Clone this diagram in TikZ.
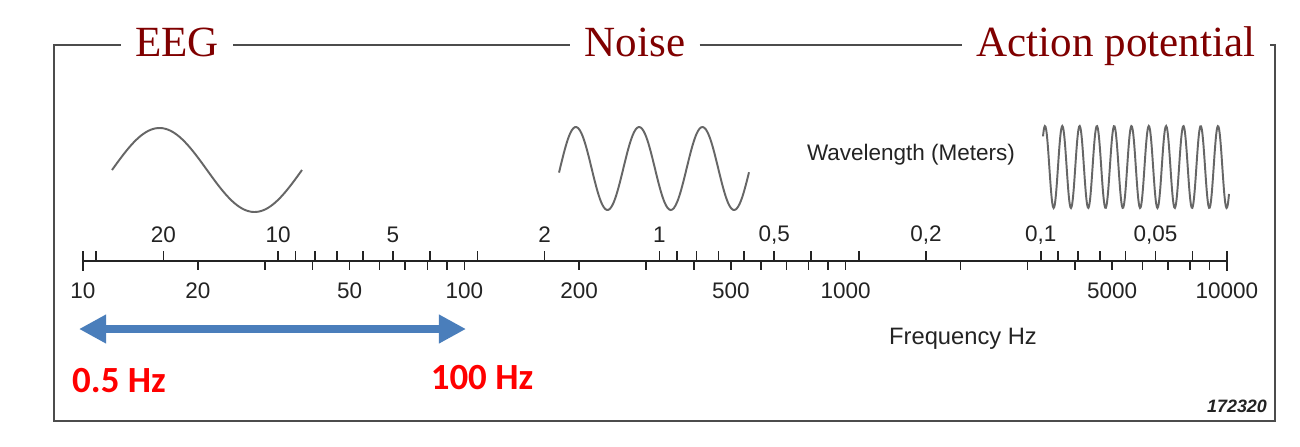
\documentclass[tikz,border=0pt]{standalone}
\usepackage{fontspec}
\setmainfont{Liberation Serif}
\setsansfont{Liberation Sans}
\newfontfamily\calibri{Carlito}
\usetikzlibrary{arrows.meta,calc}
\definecolor{TitleClr}{RGB}{128,0,0}
\definecolor{ArrowClr}{RGB}{74,126,187}
\definecolor{InkClr}{RGB}{35,35,35}

\begin{document}
\begin{tikzpicture}[x=0.2mm,y=-0.2mm,
  title/.style={font=\fontsize{24.5}{30}\selectfont,text=TitleClr,inner xsep=8pt,inner ysep=0pt,anchor=base},
  frame/.style={line width=1.1pt,color=black!70},
  scalelabel/.style={font=\sffamily\fontsize{12.8}{15}\selectfont,text=InkClr,inner sep=0pt},
  tick/.style={line width=0.9pt,color=InkClr},
  wave/.style={line width=1.1pt,color=black!60,smooth},
  hzarrow/.style={{Triangle[length=15.4pt,width=15.4pt]}-{Triangle[length=15.4pt,width=15.4pt]},line width=4.6pt,color=ArrowClr},
  hzlabel/.style={font=\calibri\bfseries\fontsize{21}{25}\selectfont,text=red,inner sep=0pt}]

\path[use as bounding box,fill=white] (0,0) rectangle (1300,446);

\coordinate (tl) at (54,45);
\coordinate (tr) at (1275,45);
\coordinate (bl) at (54,421);
\coordinate (br) at (1275,421);

\node[title] (eeg) at (177,56) {EEG};
\node[title] (noise) at (635,56) {Noise};
\node[title] (ap) at (1116,56) {Action potential};

\draw[frame] (tl -| eeg.west) -- (tl) -- (bl) -- (br) -- (tr) -- (tr -| ap.east);
\draw[frame] (tl -| eeg.east) -- (tl -| noise.west);
\draw[frame] (tl -| noise.east) -- (tl -| ap.west);

% waves
\draw[wave] plot[domain=112:302,samples=80] (\x,{170-42*sin(360/190*(\x-112))});
\draw[wave] plot[domain=559:749,samples=120] (\x,{168.5-41.5*sin(360/63.3*(\x-560))});
\draw[wave] plot[domain=1043:1229,samples=300] (\x,{167-41*cos(360/17.3*(\x-1045))});

\node[scalelabel] (wavelen) at (911,155) {Wavelength (Meters)};

% scale
\coordinate (f0) at (83,261);
\coordinate (f1) at (1227,261);
\draw[tick] (f0) -- (f1);
\draw[tick] ($(f0)+(0,-10)$) -- ($(f0)+(0,10)$);
\draw[tick] ($(f1)+(0,-10)$) -- ($(f1)+(0,10)$);

\foreach \d in {1,2,3}
  \foreach \m in {2,...,10}{
    \pgfmathsetmacro\fx{83+381.3*(\d-1+log10(\m))}
    \draw[tick] (\fx,261) -- (\fx,270);
  }
\foreach \l in {30,20,10,9,8,7,6,5,4,3,2,1,0.9,0.8,0.7,0.6,0.5,0.4,0.3,0.2,0.1,0.09,0.08,0.07,0.06,0.05,0.04}{
  \pgfmathsetmacro\lx{83+381.3*log10(32.5/\l)}
  \draw[tick] (\lx,261) -- (\lx,251);
}

\foreach \l/\t [count=\i] in {20/20,10/10,5/5,2/2,1/1,0.5/{0,5},0.2/{0,2},0.1/{0,1},0.05/{0,05}}{
  \pgfmathsetmacro\lx{83+381.3*log10(32.5/\l)}
  \node[scalelabel] (wl\i) at (\lx,235) {\t};
}
\foreach \f [count=\i] in {10,20,50,100,200,500,1000,5000,10000}{
  \pgfmathsetmacro\fx{83+381.3*log10(\f/10)}
  \node[scalelabel] (hz\i) at (\fx,291) {\f};
}
\node[scalelabel,font=\sffamily\fontsize{13.5}{16}\selectfont] (freq) at (963,339) {Frequency Hz};
\node[scalelabel,font=\sffamily\bfseries\itshape\fontsize{10.2}{12}\selectfont] (fignum) at (1237,406) {172320};

% EEG band
\coordinate (lo) at (79,329);
\coordinate (hi) at (466,329);
\draw[hzarrow] (lo) -- (hi);
\node[hzlabel] (lolabel) at (119,381) {0.5 Hz};
\node[hzlabel] (hilabel) at (482,378) {100 Hz};

\end{tikzpicture}
\end{document}
